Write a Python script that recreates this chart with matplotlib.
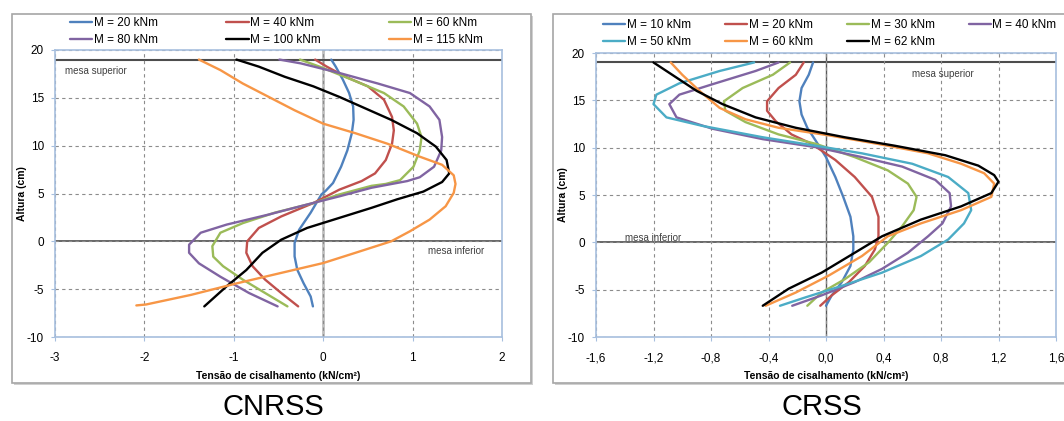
import matplotlib
matplotlib.use('Agg')
import matplotlib.pyplot as plt
from matplotlib.patches import Rectangle

plt.rcParams['font.family'] = ['Liberation Sans', 'DejaVu Sans']
plt.rcParams['axes.unicode_minus'] = False

# CNRSS data (tensao de cisalhamento x altura)
cn_labels = ['M = 20 kNm', 'M = 40 kNm', 'M = 60 kNm', 'M = 80 kNm', 'M = 100 kNm', 'M = 115 kNm']
cn_m20_x = [0.09, 0.14, 0.22, 0.29, 0.335, 0.34, 0.32, 0.27, 0.20, 0.11, 0.03, -0.02, -0.14, -0.27, -0.32, -0.32, -0.29, -0.22, -0.14, -0.115]
cn_m20_y = [19, 18.26, 16.9, 15.5, 14.1, 12.7, 11.3, 9.5, 7.8, 6.1, 5.3, 4.9, 3.0, 1.2, -0.17, -1.57, -2.97, -4.37, -5.77, -6.8]
cn_m40_x = [-0.09, 0.04, 0.25, 0.5, 0.68, 0.77, 0.79, 0.77, 0.70, 0.58, 0.43, 0.18, -0.11, -0.47, -0.72, -0.85, -0.86, -0.79, -0.65, -0.47, -0.28]
cn_m40_y = [19, 18.26, 17.2, 16.2, 14.8, 13.0, 11.6, 10.2, 8.5, 7.1, 6.3, 5.4, 4.0, 2.6, 1.4, 0.0, -1.2, -2.6, -4.0, -5.4, -6.8]
cn_m60_x = [-0.26, -0.04, 0.32, 0.68, 0.9, 1.05, 1.1, 1.08, 1.01, 0.86, 0.70, 0.54, 0.18, -0.11, -0.54, -0.9, -1.15, -1.24, -1.23, -1.12, -0.9, -0.65, -0.40]
cn_m60_y = [19, 18.26, 16.9, 15.5, 14.1, 12.3, 10.9, 9.5, 7.8, 6.4, 6.0, 5.8, 4.9, 4.0, 3.0, 1.9, 0.9, -0.5, -1.6, -2.6, -4.0, -5.4, -6.8]
cn_m80_x = [-0.49, -0.25, 0.18, 0.61, 0.97, 1.19, 1.3, 1.33, 1.32, 1.24, 1.08, 0.94, 0.54, 0.18, -0.18, -0.61, -1.08, -1.37, -1.5, -1.5, -1.39, -1.15, -0.83, -0.51]
cn_m80_y = [19, 18.6, 17.6, 16.5, 15.5, 14.1, 12.7, 10.9, 9.5, 7.8, 6.7, 6.3, 5.6, 4.7, 3.85, 2.8, 1.75, 0.9, -0.35, -1.2, -2.3, -3.7, -5.4, -6.8]
cn_m100_x = [-0.97, -0.72, -0.43, -0.11, 0.18, 0.47, 0.76, 1.05, 1.26, 1.38, 1.41, 1.33, 1.12, 0.83, 0.54, 0.18, -0.18, -0.47, -0.68, -0.86, -1.08, -1.33]
cn_m100_y = [19, 18.26, 17.2, 16.2, 15.1, 13.9, 12.7, 11.3, 9.9, 8.5, 7.1, 6.2, 5.2, 4.4, 3.5, 2.45, 1.4, 0.17, -1.2, -3.0, -4.7, -6.8]
cn_m115_x = [-1.39, -1.15, -0.9, -0.61, -0.32, 0.0, 0.36, 0.72, 1.08, 1.33, 1.46, 1.48, 1.46, 1.37, 1.19, 0.97, 0.76, 0.36, 0.0, -0.47, -0.97, -1.48, -1.98, -2.09]
cn_m115_y = [19, 17.9, 16.5, 15.1, 13.7, 12.3, 11.3, 10.2, 8.85, 8.0, 6.9, 6.0, 5.07, 3.67, 2.27, 1.05, 0.0, -1.2, -2.27, -3.3, -4.4, -5.6, -6.6, -6.7]

# CRSS data
cr_labels = ['M = 10 kNm', 'M = 20 kNm', 'M = 30 kNm', 'M = 40 kNm', 'M = 50 kNm', 'M = 60 kNm', 'M = 62 kNm']
cr_m10_x = [-0.09, -0.12, -0.17, -0.185, -0.17, -0.13, -0.07, 0.0, 0.065, 0.12, 0.17, 0.19, 0.19, 0.17, 0.11, 0.04, 0.0]
cr_m10_y = [19, 17.7, 16.3, 14.9, 13.5, 12.1, 10.7, 9.0, 6.9, 4.8, 2.7, 0.64, -0.75, -2.5, -4.2, -5.6, -6.7]
cr_m20_x = [-0.155, -0.21, -0.33, -0.41, -0.41, -0.35, -0.24, -0.1, 0.065, 0.2, 0.32, 0.365, 0.365, 0.34, 0.27, 0.16, 0.04, -0.04]
cr_m20_y = [19, 17.7, 16.3, 14.9, 13.9, 12.8, 11.4, 10.4, 8.7, 6.9, 4.8, 2.7, 0.64, -0.75, -2.5, -4.2, -5.6, -6.7]
cr_m30_x = [-0.25, -0.37, -0.58, -0.71, -0.70, -0.56, -0.33, -0.07, 0.2, 0.43, 0.57, 0.63, 0.61, 0.53, 0.43, 0.3, 0.13, -0.03, -0.13]
cr_m30_y = [19, 17.7, 16.3, 14.9, 13.9, 12.7, 11.4, 10.4, 9.0, 7.6, 6.2, 4.8, 3.4, 1.7, -0.05, -2.1, -3.9, -5.3, -6.7]
cr_m40_x = [-0.33, -0.49, -0.79, -1.02, -1.09, -1.04, -0.79, -0.44, -0.07, 0.25, 0.53, 0.76, 0.86, 0.87, 0.81, 0.71, 0.57, 0.39, 0.2, -0.03, -0.235]
cr_m40_y = [19, 18.1, 16.7, 15.6, 14.6, 13.2, 12.0, 10.9, 10.05, 9.0, 8.0, 6.6, 5.2, 3.8, 2.0, 0.64, -1.1, -2.8, -4.2, -5.6, -6.7]
cr_m50_x = [-0.5, -0.74, -1.02, -1.18, -1.2, -1.11, -0.86, -0.44, -0.07, 0.25, 0.6, 0.85, 0.99, 1.01, 0.96, 0.85, 0.66, 0.39, 0.11, -0.14, -0.32]
cr_m50_y = [19, 18.1, 16.8, 15.6, 14.6, 13.2, 12.3, 11.1, 10.2, 9.4, 8.3, 6.9, 5.2, 3.4, 2.0, 0.3, -1.45, -3.2, -4.6, -5.8, -6.7]
cr_m60_x = [-1.08, -1.0, -0.88, -0.74, -0.56, -0.33, 0.02, 0.36, 0.71, 0.94, 1.10, 1.17, 1.15, 0.94, 0.66, 0.43, 0.25, 0.02, -0.21, -0.42]
cr_m60_y = [19, 17.7, 16.0, 14.2, 13.0, 12.1, 11.3, 10.4, 9.4, 8.3, 7.3, 6.2, 4.8, 3.4, 2.0, 0.64, -1.45, -3.5, -5.3, -6.7]
cr_m62_x = [-1.2, -1.04, -0.9, -0.72, -0.49, -0.21, 0.13, 0.48, 0.83, 1.06, 1.17, 1.2, 1.15, 0.94, 0.66, 0.39, 0.2, -0.03, -0.26, -0.44]
cr_m62_y = [19, 17.4, 16.0, 14.6, 13.2, 12.1, 11.1, 10.2, 9.2, 8.1, 7.1, 6.4, 5.2, 3.8, 2.4, 0.64, -1.1, -3.2, -4.9, -6.7]

cn_colors = ['#4F81BD', '#C0504D', '#9BBB59', '#8064A2', '#000000', '#F79646']
cr_colors = ['#4F81BD', '#C0504D', '#9BBB59', '#8064A2', '#4BACC6', '#F79646', '#000000']

W, H = 1064, 421
fig = plt.figure(figsize=(W / 100, H / 100), dpi=100)


def px_box(x0, y0, x1, y1):
    # pixel box (top-left origin) -> figure fraction [l, b, w, h]
    return [x0 / W, 1 - y1 / H, (x1 - x0) / W, (y1 - y0) / H]


# outer chart frames with a light shadow
for x0, y0, x1, y1 in [(12, 14, 531, 383), (553, 14, 1075, 383)]:
    l, b, w, h = px_box(x0, y0, x1, y1)
    fig.add_artist(Rectangle((l + 2 / W, b - 2 / H), w, h, transform=fig.transFigure,
                             facecolor='#D0D0D0', edgecolor='none', zorder=-2))
    fig.add_artist(Rectangle((l, b), w, h, transform=fig.transFigure,
                             facecolor='white', edgecolor='#A6A6A6', lw=1.2, zorder=-1))

ax1 = fig.add_axes(px_box(55, 50, 502, 337))
ax2 = fig.add_axes(px_box(596, 53, 1056, 337))


def style_axes(ax, xlim, xticks, xlabels):
    ax.set_xlim(*xlim)
    ax.set_ylim(-10, 20)
    ax.set_xticks(xticks)
    ax.set_xticklabels(xlabels)
    ax.set_yticks([-10, -5, 0, 5, 10, 15, 20])
    ax.grid(True, color='#8C8C8C', ls=(0, (3, 3)), lw=0.8)
    for s in ax.spines.values():
        s.set_color('#A7BFDE')
        s.set_linewidth(1.2)
    ax.tick_params(labelsize=8.5, length=3, color='#A7BFDE')
    ax.tick_params(axis='x', pad=8)
    ax.tick_params(axis='y', pad=5)
    ax.set_xlabel('Tensão de cisalhamento (kN/cm²)', fontsize=7.5, fontweight='bold', labelpad=5)
    ax.set_ylabel('Altura (cm)', fontsize=7.5, fontweight='bold', labelpad=0)
    ax.axhline(19, color='#4D4D4D', lw=1.5, zorder=1.5)
    ax.axhline(0, color='#4D4D4D', lw=1.2, zorder=1.5)


style_axes(ax1, (-3, 2), [-3, -2, -1, 0, 1, 2], ['-3', '-2', '-1', '0', '1', '2'])
style_axes(ax2, (-1.6, 1.6), [-1.6, -1.2, -0.8, -0.4, 0.0, 0.4, 0.8, 1.2, 1.6],
           ['-1,6', '-1,2', '-0,8', '-0,4', '0,0', '0,4', '0,8', '1,2', '1,6'])
ax1.axvline(0, color='#BFBFBF', lw=2, zorder=1.4)
ax2.axvline(0, color='#595959', lw=1, zorder=1.4)

cn_series = [(cn_m20_x, cn_m20_y), (cn_m40_x, cn_m40_y), (cn_m60_x, cn_m60_y),
             (cn_m80_x, cn_m80_y), (cn_m100_x, cn_m100_y), (cn_m115_x, cn_m115_y)]
for (x, y), c, lab in zip(cn_series, cn_colors, cn_labels):
    ax1.plot(x, y, color=c, lw=1.7, label=lab, zorder=3, solid_capstyle='round', solid_joinstyle='round')

cr_series = [(cr_m10_x, cr_m10_y), (cr_m20_x, cr_m20_y), (cr_m30_x, cr_m30_y), (cr_m40_x, cr_m40_y),
             (cr_m50_x, cr_m50_y), (cr_m60_x, cr_m60_y), (cr_m62_x, cr_m62_y)]
for (x, y), c, lab in zip(cr_series, cr_colors, cr_labels):
    ax2.plot(x, y, color=c, lw=1.7, label=lab, zorder=3, solid_capstyle='round', solid_joinstyle='round')

ax1.text(-2.89, 17.8, 'mesa superior', fontsize=7, color='#404040', va='center')
ax1.text(1.17, -1.0, 'mesa inferior', fontsize=7, color='#404040', va='center')
ax2.text(0.6, 17.8, 'mesa superior', fontsize=7, color='#404040', va='center')
ax2.text(-1.40, 0.5, 'mesa inferior', fontsize=7, color='#404040', va='center')

# legends above each plot area (entries filled row by row as in the original)
leg_kw = dict(frameon=False, fontsize=8.5, handlelength=1.9, handletextpad=0.1,
              borderpad=0, borderaxespad=0, labelspacing=0.45, loc='upper left')
h1, l1 = ax1.get_legend_handles_labels()
order1 = [0, 3, 1, 4, 2, 5]
fig.legend([h1[i] for i in order1], [l1[i] for i in order1], ncol=3, columnspacing=5.8,
           bbox_to_anchor=(70 / W, 1 - 17 / H), **leg_kw)
h2, l2 = ax2.get_legend_handles_labels()
order2 = [0, 4, 1, 5, 2, 6, 3]
fig.legend([h2[i] for i in order2], [l2[i] for i in order2], ncol=4, columnspacing=2.9,
           bbox_to_anchor=(603 / W, 1 - 19 / H), **leg_kw)

fig.text(273 / W, 1 - 407 / H, 'CNRSS', fontsize=21, ha='center', va='center')
fig.text(822 / W, 1 - 407 / H, 'CRSS', fontsize=21, ha='center', va='center')

fig.savefig('out.png', dpi=100)
